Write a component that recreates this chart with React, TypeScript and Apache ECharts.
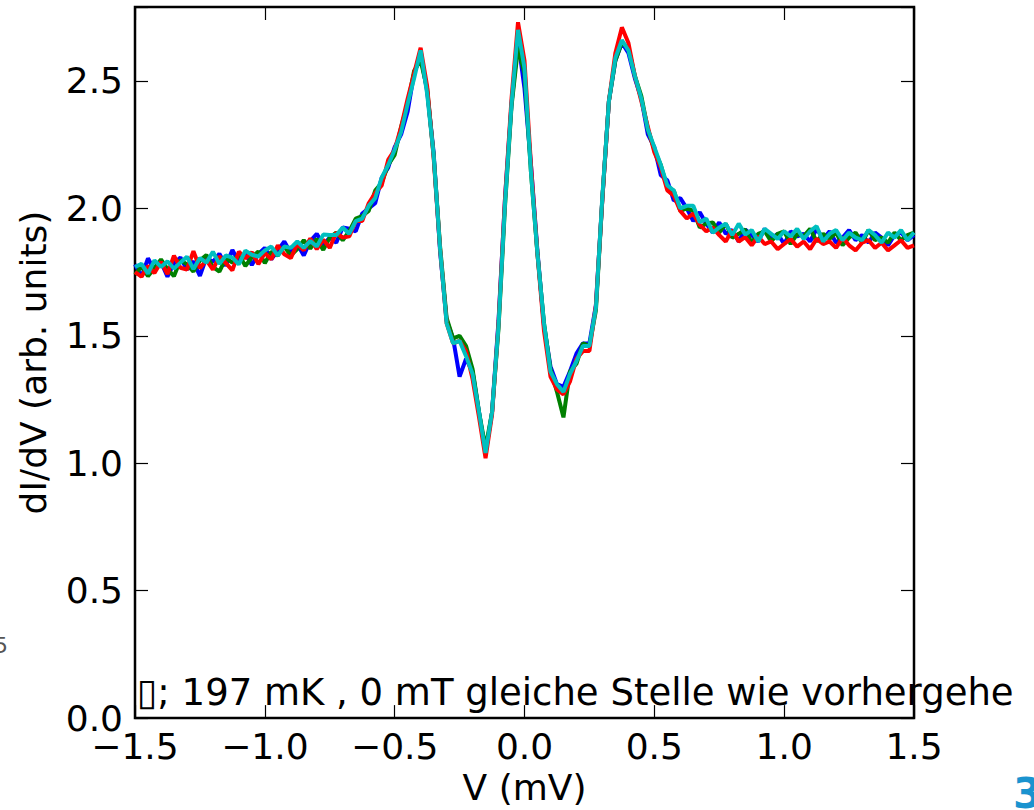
import React, { useEffect, useRef } from "react";
import * as echarts from "echarts";

const V = [
  -1.5, -1.475, -1.45, -1.425, -1.4, -1.375, -1.35, -1.325, -1.3, -1.275,
  -1.25, -1.225, -1.2, -1.175, -1.15, -1.125, -1.1, -1.075, -1.05, -1.025,
  -1.0, -0.975, -0.95, -0.925, -0.9, -0.875, -0.85, -0.825, -0.8, -0.775,
  -0.75, -0.725, -0.7, -0.675, -0.65, -0.625, -0.6, -0.575, -0.55, -0.525,
  -0.5, -0.475, -0.45, -0.425, -0.4, -0.375, -0.35, -0.325, -0.3, -0.275,
  -0.25, -0.225, -0.2, -0.175, -0.15, -0.125, -0.1, -0.075, -0.05, -0.025,
  0.0, 0.025, 0.05, 0.075, 0.1, 0.125, 0.15, 0.175, 0.2, 0.225,
  0.25, 0.275, 0.3, 0.325, 0.35, 0.375, 0.4, 0.425, 0.45, 0.475,
  0.5, 0.525, 0.55, 0.575, 0.6, 0.625, 0.65, 0.675, 0.7, 0.725,
  0.75, 0.775, 0.8, 0.825, 0.85, 0.875, 0.9, 0.925, 0.95, 0.975,
  1.0, 1.025, 1.05, 1.075, 1.1, 1.125, 1.15, 1.175, 1.2, 1.225,
  1.25, 1.275, 1.3, 1.325, 1.35, 1.375, 1.4, 1.425, 1.45, 1.475, 1.5,
];

const BLUE = [
  1.780, 1.732, 1.804, 1.756, 1.790, 1.732, 1.784, 1.807, 1.760, 1.792,
  1.735, 1.807, 1.790, 1.822, 1.775, 1.837, 1.790, 1.824, 1.778, 1.821,
  1.845, 1.800, 1.835, 1.870, 1.825, 1.860, 1.815, 1.872, 1.900, 1.857,
  1.885, 1.865, 1.925, 1.920, 1.910, 1.980, 2.000, 2.020, 2.120, 2.160,
  2.240, 2.290, 2.380, 2.530, 2.600, 2.460, 2.220, 1.830, 1.560, 1.490,
  1.340, 1.410, 1.360, 1.200, 1.040, 1.200, 1.560, 2.040, 2.410, 2.660,
  2.470, 2.170, 1.830, 1.540, 1.380, 1.310, 1.300, 1.360, 1.430, 1.470,
  1.470, 1.620, 2.040, 2.420, 2.580, 2.650, 2.610, 2.510, 2.430, 2.290,
  2.240, 2.130, 2.110, 2.030, 2.040, 2.000, 1.950, 1.985, 1.940, 1.905,
  1.945, 1.900, 1.915, 1.870, 1.917, 1.895, 1.870, 1.920, 1.880, 1.900,
  1.860, 1.910, 1.890, 1.900, 1.870, 1.920, 1.880, 1.910, 1.865, 1.885,
  1.915, 1.875, 1.895, 1.865, 1.905, 1.885, 1.855, 1.895, 1.905, 1.875, 1.895,
];

const GREEN = [
  1.740, 1.772, 1.734, 1.766, 1.800, 1.762, 1.734, 1.797, 1.780, 1.752,
  1.795, 1.817, 1.770, 1.752, 1.805, 1.787, 1.820, 1.774, 1.808, 1.831,
  1.785, 1.830, 1.815, 1.850, 1.815, 1.840, 1.875, 1.842, 1.880, 1.837,
  1.885, 1.905, 1.875, 1.910, 1.960, 1.970, 1.990, 2.070, 2.100, 2.170,
  2.210, 2.320, 2.410, 2.540, 2.580, 2.470, 2.210, 1.850, 1.570, 1.490,
  1.500, 1.460, 1.370, 1.200, 1.060, 1.200, 1.530, 2.010, 2.400, 2.630,
  2.530, 2.140, 1.820, 1.550, 1.370, 1.280, 1.180, 1.360, 1.390, 1.470,
  1.460, 1.600, 2.040, 2.420, 2.580, 2.650, 2.630, 2.520, 2.440, 2.310,
  2.230, 2.170, 2.080, 2.070, 1.990, 2.000, 1.990, 1.925, 1.940, 1.945,
  1.905, 1.940, 1.885, 1.900, 1.917, 1.865, 1.900, 1.910, 1.870, 1.900,
  1.910, 1.860, 1.900, 1.890, 1.920, 1.870, 1.900, 1.880, 1.905, 1.855,
  1.885, 1.905, 1.865, 1.915, 1.875, 1.885, 1.865, 1.905, 1.875, 1.895, 1.905,
];

const RED = [
  1.750, 1.732, 1.774, 1.746, 1.790, 1.742, 1.814, 1.767, 1.760, 1.832,
  1.765, 1.797, 1.760, 1.812, 1.785, 1.757, 1.830, 1.804, 1.828, 1.781,
  1.825, 1.800, 1.855, 1.820, 1.805, 1.860, 1.835, 1.882, 1.840, 1.877,
  1.845, 1.905, 1.885, 1.890, 1.950, 1.950, 2.020, 2.060, 2.090, 2.190,
  2.230, 2.320, 2.430, 2.530, 2.630, 2.480, 2.200, 1.840, 1.550, 1.470,
  1.480, 1.440, 1.330, 1.180, 1.020, 1.190, 1.550, 2.040, 2.430, 2.730,
  2.580, 2.170, 1.820, 1.520, 1.340, 1.290, 1.270, 1.320, 1.410, 1.440,
  1.440, 1.620, 2.040, 2.420, 2.610, 2.710, 2.650, 2.520, 2.420, 2.320,
  2.220, 2.160, 2.070, 2.050, 1.990, 1.960, 1.980, 1.935, 1.910, 1.925,
  1.895, 1.870, 1.915, 1.870, 1.887, 1.855, 1.890, 1.860, 1.870, 1.840,
  1.860, 1.880, 1.850, 1.870, 1.840, 1.880, 1.860, 1.870, 1.845, 1.885,
  1.855, 1.835, 1.865, 1.875, 1.845, 1.865, 1.835, 1.855, 1.875, 1.845, 1.855,
];

const CYAN = [
  1.770, 1.782, 1.744, 1.796, 1.770, 1.792, 1.764, 1.787, 1.810, 1.762,
  1.805, 1.787, 1.830, 1.782, 1.815, 1.807, 1.780, 1.834, 1.818, 1.811,
  1.835, 1.850, 1.815, 1.850, 1.845, 1.870, 1.845, 1.872, 1.850, 1.897,
  1.895, 1.895, 1.925, 1.900, 1.950, 1.960, 2.010, 2.040, 2.120, 2.170,
  2.230, 2.300, 2.410, 2.510, 2.620, 2.450, 2.210, 1.840, 1.550, 1.470,
  1.480, 1.420, 1.350, 1.200, 1.040, 1.200, 1.540, 2.020, 2.410, 2.700,
  2.550, 2.140, 1.820, 1.550, 1.360, 1.310, 1.280, 1.350, 1.400, 1.460,
  1.460, 1.610, 2.050, 2.420, 2.590, 2.660, 2.620, 2.520, 2.430, 2.310,
  2.240, 2.170, 2.090, 2.070, 2.000, 2.010, 2.010, 1.945, 1.960, 1.905,
  1.925, 1.940, 1.895, 1.940, 1.897, 1.915, 1.870, 1.920, 1.900, 1.880,
  1.910, 1.890, 1.920, 1.880, 1.910, 1.930, 1.870, 1.900, 1.915, 1.875,
  1.905, 1.885, 1.875, 1.915, 1.895, 1.865, 1.905, 1.885, 1.915, 1.875, 1.905,
];

const SERIES_NAMES = ["blue", "green", "red", "cyan"];
const SERIES_COLORS = ["#0000ff", "#008000", "#ff0000", "#00bfbf"];
const SERIES_VALUES = [BLUE, GREEN, RED, CYAN];

const X_MIN = -1.5;
const X_MAX = 1.5;
const Y_MIN = 0;
const Y_MAX = 2.79;
const TICK_STEP = 0.5;

const X_LABEL = "V (mV)";
const Y_LABEL = "dI/dV (arb. units)";
const ANNOTATION = "\u25AF; 197 mK , 0 mT gleiche Stelle wie vorhergehe";
const FONT = "DejaVu Sans";

function fmt(v: number): string {
  const k = v / TICK_STEP;
  if (Math.abs(k - Math.round(k)) > 1e-6) return "";
  const s = v.toFixed(1);
  return s.replace("-", "\u2212");
}

export default function App() {
  const ref = useRef<HTMLDivElement>(null);
  useEffect(() => {
    if (!ref.current) return;
    const chart = echarts.init(ref.current, null, { renderer: "svg" });
    const baseAxis = {
      type: "value" as const,
      interval: TICK_STEP,
      splitLine: { show: false },
      axisLine: { show: false, onZero: false },
      axisTick: { show: true, inside: true, length: 13, lineStyle: { color: "#000", width: 1.2 } },
    };
    const labelStyle = { color: "#000", fontSize: 36, fontFamily: FONT };
    chart.setOption({
      animation: false,
      backgroundColor: "#fff",
      grid: {
        left: 135,
        right: 120,
        top: 7,
        bottom: 89,
        show: true,
        borderColor: "#000",
        borderWidth: 2.5,
        backgroundColor: "transparent",
      },
      xAxis: [
        {
          ...baseAxis,
          min: X_MIN,
          max: X_MAX,
          position: "bottom",
          axisLabel: { ...labelStyle, margin: 10, formatter: fmt },
          name: X_LABEL,
          nameLocation: "middle",
          nameGap: 44,
          nameTextStyle: labelStyle,
        },
        {
          ...baseAxis,
          min: X_MIN,
          max: X_MAX,
          position: "top",
          axisLabel: { show: false },
        },
      ],
      yAxis: [
        {
          ...baseAxis,
          min: Y_MIN,
          max: Y_MAX,
          position: "left",
          axisLabel: { ...labelStyle, margin: 12, formatter: fmt },
          name: Y_LABEL,
          nameLocation: "middle",
          nameRotate: 90,
          nameGap: 84,
          nameTextStyle: labelStyle,
        },
        {
          ...baseAxis,
          min: Y_MIN,
          max: Y_MAX,
          position: "right",
          axisLabel: { show: false },
        },
      ],
      series: SERIES_VALUES.map((vals, si) => ({
        name: SERIES_NAMES[si],
        type: "line",
        xAxisIndex: 0,
        yAxisIndex: 0,
        showSymbol: false,
        symbol: "none",
        lineStyle: { color: SERIES_COLORS[si], width: 4 },
        itemStyle: { color: SERIES_COLORS[si] },
        data: V.map((x, i) => [x, vals[i]]),
        z: 2 + si,
      })),
      graphic: [
        {
          type: "text",
          left: 137,
          top: 674,
          z: 100,
          style: { text: ANNOTATION, fill: "#000", fontSize: 37, fontFamily: FONT },
        },
        {
          type: "text",
          left: -6,
          top: 634,
          style: { text: "5", fill: "#555", fontSize: 22, fontFamily: FONT },
        },
        {
          type: "text",
          left: 1013,
          top: 772,
          style: { text: "3", fill: "#1a93cf", fontSize: 42, fontWeight: "bold", fontFamily: FONT },
        },
      ],
    });
    return () => chart.dispose();
  }, []);
  return (
    <div
      ref={ref}
      style={{ position: "fixed", left: 0, top: 0, width: 1034, height: 810, background: "#fff" }}
    />
  );
}
